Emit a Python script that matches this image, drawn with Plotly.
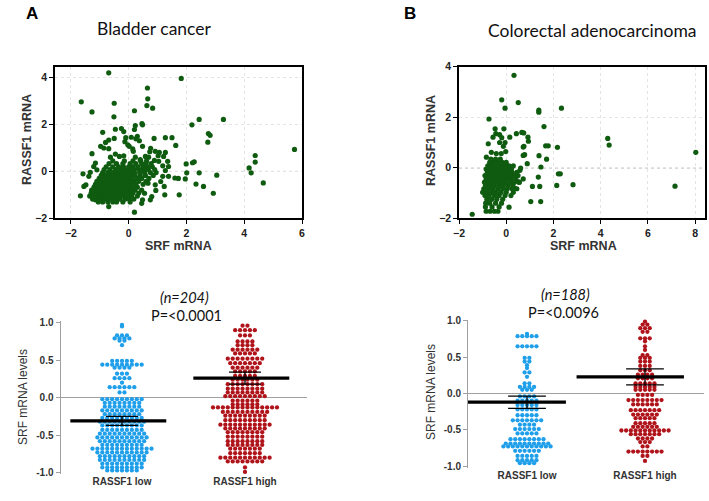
import plotly.graph_objects as go

W, H = 709, 501

# ---------------- Panel A scatter (Bladder cancer) ----------------
a_extra_srf = [-0.69, -1.64, -1.27, -0.50, -0.51, 0.65, 0.66, 0.63, 0.83, 0.20,
               0.46, 0.48, 0.23, 0.20, -0.90, -0.25, -0.17, -0.46, -0.50, -0.69,
               -0.80, -0.97, -0.86, -0.69, -0.10, -0.13, 0.09, 0.30, 0.37, 0.25,
               -0.03, 0.02, 0.14, 0.48, 0.88, 0.76, 0.73, 0.92, 1.06, 1.27,
               1.50, 1.27, 1.21, 1.35, 1.38, -1.27, -0.63, -0.46, -0.17, -0.32,
               0.16, 0.23, 0.40, 0.58, 0.69, 0.89, 1.02, 1.04, 1.18, 1.27,
               1.38, 1.18, 1.11, 1.23, 1.25, 0.75, 0.80, 0.94, 0.92, 0.67,
               0.55, 0.48, 0.45, 0.20, -0.69, -1.15, -1.67, -1.58, -1.55, -1.48,
               -1.38, -1.33, -1.21, -1.15, -1.10, 1.82, 2.44, 3.28, 2.19, 2.76,
               2.82, 2.74, 1.63, 5.74, 4.38, 4.38, 4.17, 4.24, 4.66, 1.99,
               2.21, 2.27, 2.01, 2.44, 3.05, 1.96, 1.72, 1.60, 2.33, 2.59,
               2.93, 1.75]
a_extra_rassf1 = [4.21, 2.97, 2.54, 2.91, 2.33, 3.56, 3.10, 2.81, 2.70, 2.59,
                  2.04, 1.99, 1.96, 1.79, 1.67, 1.83, 1.70, 1.80, 1.41, 1.34,
                  1.24, 1.07, 1.00, 0.97, 1.44, 1.27, 1.46, 1.50, 1.31, 1.39,
                  1.14, 1.07, 0.96, 1.07, 1.41, 0.99, 0.84, 0.86, 0.81, 1.44,
                  1.44, 0.81, 0.64, 0.43, 0.21, 0.76, 0.61, 0.74, 0.67, 0.64,
                  0.86, 0.61, 0.50, 0.64, 0.61, 0.47, 0.67, 0.43, 0.24, 0.04,
                  -0.21, -0.21, -0.43, -0.64, -1.00, -1.21, -1.07, -0.81, -0.57, -0.50,
                  -0.93, -1.21, -1.36, -1.74, -1.50, -1.21, -1.04, -0.10, -0.64, -0.57,
                  -0.21, -0.04, 0.21, 0.36, 0.07, 3.97, 2.22, 2.22, 1.99, 1.62,
                  1.54, 1.25, 1.11, 0.94, 0.68, 0.40, 0.15, -0.06, -0.49, 0.32,
                  0.37, 0.41, -0.06, -0.06, -0.16, -0.32, -0.30, -0.28, -0.54, -0.64,
                  -0.93, -1.00]

# dense core, read row by row (RASSF1 level, SRF values)
a_core_rassf1 = [-1.30, -1.18, -1.05, -0.92, -0.80, -0.67, -0.55, -0.42,
                 -0.30, -0.17, -0.05, 0.08, 0.20, 0.33, 0.45]
a_core_srf = [
    [-1.05, -0.90, -0.72, -0.55, -0.42, -0.20, 0.05],
    [-1.25, -1.10, -0.97, -0.83, -0.70, -0.58, -0.45, -0.30, -0.12, 0.02, 0.18],
    [-1.35, -1.20, -1.08, -0.95, -0.82, -0.68, -0.55, -0.43, -0.30, -0.18, -0.05, 0.10, 0.30],
    [-1.30, -1.15, -1.02, -0.90, -0.77, -0.63, -0.50, -0.38, -0.25, -0.12, 0.00, 0.15, 0.35],
    [-1.28, -1.12, -0.98, -0.85, -0.72, -0.60, -0.47, -0.33, -0.20, -0.07, 0.08, 0.22, 0.45],
    [-1.20, -1.05, -0.92, -0.80, -0.66, -0.53, -0.40, -0.27, -0.13, 0.00, 0.13, 0.30],
    [-1.15, -1.00, -0.87, -0.73, -0.60, -0.46, -0.33, -0.20, -0.06, 0.08, 0.25, 0.50],
    [-1.10, -0.95, -0.80, -0.67, -0.53, -0.40, -0.27, -0.13, 0.02, 0.17, 0.35, 0.60],
    [-1.02, -0.88, -0.74, -0.60, -0.47, -0.33, -0.20, -0.05, 0.10, 0.28, 0.45, 0.70],
    [-0.95, -0.80, -0.65, -0.50, -0.36, -0.22, -0.08, 0.07, 0.22, 0.40, 0.58, 0.85],
    [-0.90, -0.72, -0.55, -0.40, -0.25, -0.10, 0.05, 0.20, 0.38, 0.55, 0.75, 0.95],
    [-0.85, -0.65, -0.45, -0.28, -0.12, 0.03, 0.20, 0.37, 0.52, 0.68, 0.90],
    [-0.78, -0.55, -0.35, -0.18, 0.00, 0.15, 0.32, 0.50, 0.65, 0.82],
    [-0.68, -0.42, -0.20, 0.05, 0.25, 0.45, 0.60, 0.78],
    [-0.55, -0.15, 0.15, 0.42, 0.62],
]

# ---------------- Panel B scatter (Colorectal) ----------------
b_extra_srf = [0.33, -0.19, -0.05, 0.51, 1.38, 1.38, 2.34, -0.73, 1.60, 4.30,
               4.36, 8.03, 7.15, 2.83, -0.47, -0.10, -0.28, -0.44, -0.56, -0.19,
               0.15, 0.43, 0.66, 0.74, 0.92, 0.94, -0.76, -0.28, -0.05, -0.12,
               -0.02, -0.63, -0.42, -0.21, -0.84, 0.75, 0.78, 0.89, 0.61, 1.39,
               1.71, 1.67, 1.78, 2.17, 2.21, 2.29, 2.14, 1.42, 1.36, 1.11,
               1.46, 1.04, 0.12, -1.44, 1.47, 0.72, 0.55, 0.37, 0.42, 0.58,
               0.72, 0.72]
b_extra_rassf1 = [3.66, 2.69, 2.36, 2.58, 2.28, 2.20, 2.36, 1.93, 1.63, 1.16,
                  0.90, 0.61, -0.73, -0.67, 1.54, 1.54, 1.31, 1.35, 1.21, 1.19,
                  1.21, 1.35, 1.40, 1.38, 1.21, 1.05, 0.95, 1.00, 1.00, 0.85,
                  0.64, 0.61, 0.56, 0.56, 0.42, 0.85, 0.52, 0.16, -0.01, 0.48,
                  0.34, 0.87, 0.87, 0.81, -0.24, -0.24, -0.70, -0.74, -0.37, -0.74,
                  -1.34, -1.34, -1.56, -1.84, 0.03, -0.44, -0.57, -0.81, -0.50, -0.10,
                  0.49, 0.82]

b_core_rassf1 = [-1.72, -1.55, -1.40, -1.25, -1.10, -0.97, -0.83, -0.70,
                 -0.57, -0.44, -0.31, -0.18, -0.05, 0.08, 0.21, 0.34]
b_core_srf = [
    [-0.85, -0.68, -0.50, -0.35],
    [-0.88, -0.60, -0.30],
    [-0.87, -0.70, -0.45, -0.20],
    [-0.82, -0.62, -0.40, -0.15],
    [-0.90, -0.72, -0.50, -0.30, -0.05, 0.20],
    [-1.00, -0.82, -0.62, -0.42, -0.22, 0.00, 0.30],
    [-0.95, -0.75, -0.55, -0.35, -0.15, 0.05, 0.25, 0.45],
    [-0.88, -0.70, -0.50, -0.30, -0.12, 0.08, 0.28],
    [-0.92, -0.75, -0.58, -0.40, -0.22, -0.05, 0.15, 0.35, 0.55],
    [-0.85, -0.68, -0.50, -0.33, -0.15, 0.02, 0.20, 0.40],
    [-0.90, -0.72, -0.55, -0.38, -0.20, -0.03, 0.15, 0.32, 0.50],
    [-0.80, -0.62, -0.45, -0.28, -0.10, 0.08, 0.25, 0.45],
    [-0.85, -0.68, -0.50, -0.32, -0.15, 0.03, 0.22],
    [-0.78, -0.60, -0.42, -0.25, -0.07, 0.12, 0.30],
    [-0.70, -0.52, -0.35, -0.17, 0.00],
    [-0.65, -0.45, -0.25],
]

# ---------------- Dot plots (SRF mRNA levels by RASSF1 group) ----------------
groups = ["RASSF1 low", "RASSF1 high"]

a_low_levels = [0.97, 0.95, 0.83, 0.79, 0.76, 0.70, 0.49, 0.44, 0.40, 0.32,
                0.26, 0.20, 0.14, 0.07, -0.02, -0.07, -0.12, -0.17, -0.22, -0.27,
                -0.32, -0.37, -0.43, -0.48, -0.53, -0.58, -0.63, -0.68, -0.73, -0.78,
                -0.83, -0.88, -0.93, -0.97]
a_low_counts = [1, 1, 3, 4, 2, 1, 5, 9, 4, 3,
                4, 1, 6, 2, 9, 8, 8, 9, 8, 9,
                10, 9, 9, 10, 11, 10, 9, 13, 11, 10,
                10, 9, 9, 7]

a_high_levels = [0.96, 0.90, 0.83, 0.75, 0.70, 0.64, 0.59, 0.52, 0.46, 0.40,
                 0.35, 0.29, 0.24, 0.18, 0.12, 0.07, 0.02, -0.04, -0.09, -0.13,
                 -0.19, -0.24, -0.30, -0.36, -0.41, -0.46, -0.52, -0.58, -0.63, -0.68,
                 -0.74, -0.80, -0.85, -0.93, -0.99]
a_high_counts = [2, 5, 3, 4, 4, 6, 5, 8, 7, 6,
                 5, 5, 6, 8, 8, 8, 9, 6, 6, 14,
                 10, 9, 9, 11, 9, 8, 8, 8, 8, 7,
                 7, 11, 8, 1, 1]

b_low_levels = [0.82, 0.79, 0.65, 0.49, 0.44, 0.39, 0.35, 0.29, 0.23, 0.14,
                0.09, 0.05, -0.04, -0.10, -0.16, -0.22, -0.30, -0.37, -0.43, -0.49,
                -0.55, -0.63, -0.69, -0.73, -0.79, -0.86, -0.92, -0.96]
b_low_counts = [1, 5, 5, 2, 2, 1, 1, 2, 1, 2,
                4, 3, 4, 5, 5, 5, 5, 7, 4, 6,
                5, 8, 10, 11, 6, 5, 5, 4]

b_high_levels = [0.99, 0.95, 0.90, 0.85, 0.76, 0.72, 0.65, 0.60, 0.53, 0.49,
                 0.44, 0.38, 0.32, 0.26, 0.21, 0.14, 0.09, 0.05, -0.02, -0.09,
                 -0.15, -0.23, -0.29, -0.34, -0.41, -0.46, -0.51, -0.56, -0.62, -0.67,
                 -0.73, -0.80, -0.86, -0.93]
b_high_counts = [1, 2, 3, 2, 3, 1, 1, 1, 2, 3,
                 3, 3, 3, 4, 4, 5, 5, 5, 4, 8,
                 6, 7, 6, 5, 5, 6, 11, 7, 4, 3,
                 2, 8, 2, 1]

# mean and SEM
a_means = [-0.31, 0.26]
a_sems = [0.06, 0.08]
b_means = [-0.12, 0.23]
b_sems = [0.085, 0.11]

# ---------------- styles ----------------
GREEN = "#0f5c10"
BLUE = "#1f9fea"
RED = "#b0141b"
TICKFONT = dict(family="Liberation Sans, Arial", size=10.5, color="#222", weight="bold")
DOTTICK = dict(family="Liberation Sans, Arial", size=10, color="#333", weight="bold")


def flatten_rows(levels, rows):
    xs, ys = [], []
    for lv, row in zip(levels, rows):
        for v in row:
            xs.append(v)
            ys.append(lv)
    return xs, ys


def swarm(levels, counts, center, spacing):
    xs, ys = [], []
    for lv, n in zip(levels, counts):
        for i in range(n):
            xs.append(center + (i - (n - 1) / 2) * spacing)
            ys.append(lv)
    return xs, ys


fig = go.Figure()

cx, cy = flatten_rows(a_core_rassf1, a_core_srf)
fig.add_trace(go.Scatter(x=a_extra_srf + cx, y=a_extra_rassf1 + cy, mode="markers",
                         marker=dict(color=GREEN, size=5.2, line=dict(width=0)),
                         xaxis="x", yaxis="y", showlegend=False, cliponaxis=False))
cx, cy = flatten_rows(b_core_rassf1, b_core_srf)
fig.add_trace(go.Scatter(x=b_extra_srf + cx, y=b_extra_rassf1 + cy, mode="markers",
                         marker=dict(color=GREEN, size=5.2, line=dict(width=0)),
                         xaxis="x2", yaxis="y2", showlegend=False, cliponaxis=False))


def dot_panel(xa, ya, data, means, sems, spacing, mean_span, cap):
    for gi, (levels, counts, col) in enumerate(data):
        xs, ys = swarm(levels, counts, gi, spacing)
        fig.add_trace(go.Scatter(x=xs, y=ys, mode="markers",
                                 marker=dict(color=col, size=4.3, line=dict(width=0)),
                                 xaxis=xa, yaxis=ya, showlegend=False, cliponaxis=False))
    for gi, (m, s) in enumerate(zip(means, sems)):
        fig.add_trace(go.Scatter(
            x=[gi, gi, None, gi - cap, gi + cap, None, gi - cap, gi + cap],
            y=[m - s, m + s, None, m + s, m + s, None, m - s, m - s],
            mode="lines", line=dict(color="black", width=1.3),
            xaxis=xa, yaxis=ya, showlegend=False))
        fig.add_trace(go.Scatter(
            x=[max(gi + mean_span[0], -0.5), gi + mean_span[1]], y=[m, m],
            mode="lines", line=dict(color="black", width=3.2),
            xaxis=xa, yaxis=ya, showlegend=False))


dot_panel("x3", "y3", [(a_low_levels, a_low_counts, BLUE), (a_high_levels, a_high_counts, RED)],
          a_means, a_sems, 0.04, (-0.42, 0.36), 0.13)
dot_panel("x4", "y4", [(b_low_levels, b_low_counts, BLUE), (b_high_levels, b_high_counts, RED)],
          b_means, b_sems, 0.04, (-0.58, 0.33), 0.16)


def px(x):
    return x / W


def py(y):
    return 1 - y / H


scatter_x = dict(showline=True, linecolor="black", linewidth=1.5, mirror=True,
                 ticks="outside", ticklen=4, tickwidth=1.3, tickcolor="black",
                 showgrid=True, gridcolor="#e4e4e4", griddash="dot", gridwidth=1,
                 zeroline=False, tickfont=TICKFONT, automargin=False)

dot_y = dict(range=[-1.02, 1.02], tickvals=[-1, -0.5, 0, 0.5, 1],
             ticktext=["-1.0", "-0.5", "0.0", "0.5", "1.0"],
             showline=True, linecolor="#a0a0a0", linewidth=1, ticks="outside", ticklen=4,
             tickcolor="#a0a0a0", showgrid=False, zeroline=True, zerolinecolor="#a0a0a0",
             zerolinewidth=1, tickfont=DOTTICK, automargin=False)
dot_x = dict(range=[-0.5, 1.5], tickvals=[0, 1], ticktext=groups, showline=False, ticks="",
             showgrid=False, zeroline=False, tickfont=DOTTICK, automargin=False)

fig.update_layout(
    width=W, height=H, margin=dict(l=0, r=0, t=0, b=0, autoexpand=False),
    paper_bgcolor="white", plot_bgcolor="white",
    xaxis=dict(domain=[px(55), px(302)], range=[-2.55, 6.0], tickvals=[-2, 0, 2, 4, 6],
               anchor="y", **scatter_x),
    yaxis=dict(domain=[py(218.3), py(66.7)], range=[-2, 4.47], tickvals=[-2, 0, 2, 4],
               anchor="x", **scatter_x),
    xaxis2=dict(domain=[px(459), px(705)], range=[-2, 8.42], tickvals=[-2, 0, 2, 4, 6, 8],
                anchor="y2", **scatter_x),
    yaxis2=dict(domain=[py(218.3), py(66.7)], range=[-2, 4], tickvals=[-2, 0, 2, 4],
                anchor="x2", **scatter_x),
    xaxis3=dict(domain=[px(60.5), px(306.5)], anchor="y3", **dot_x),
    yaxis3=dict(domain=[py(474.2), py(321.2)], anchor="x3", **dot_y),
    xaxis4=dict(domain=[px(468), px(704)], anchor="y4", **dot_x),
    yaxis4=dict(domain=[py(467.5), py(319.5)], anchor="x4", **dot_y),
)

for xr, yr in [("x domain", "y"), ("x2 domain", "y2")]:
    fig.add_shape(type="line", xref=xr, yref=yr, x0=0, x1=1, y0=0, y1=0,
                  line=dict(color="#6e6e6e", width=1, dash="dot"), layer="below")


def ann(text, x, y, size, family="Liberation Sans, Arial", angle=0, color="#111"):
    fig.add_annotation(text=text, x=px(x), y=py(y), xref="paper", yref="paper",
                       showarrow=False, xanchor="center", yanchor="middle", textangle=angle,
                       font=dict(family=family, size=size, color=color))


ann("<b>A</b>", 32, 13, 17, color="black")
ann("<b>B</b>", 410, 13, 17, color="black")
ann("Bladder cancer", 154, 28, 17.5, family="Lato, Noto Sans")
ann("Colorectal adenocarcinoma", 592, 31, 17.5, family="Lato, Noto Sans")
ann("<b>RASSF1 mRNA</b>", 27, 140, 12.5, angle=-90, color="#333")
ann("<b>SRF mRNA</b>", 178, 246, 12.5, color="#333")
ann("<b>RASSF1 mRNA</b>", 431, 141, 12.5, angle=-90, color="#333")
ann("<b>SRF mRNA</b>", 583, 246, 12.5, color="#333")
ann("<i>(n=204)</i>", 184, 297, 14.5, family="Lato, Noto Sans")
ann("P=<0.0001", 186, 315, 14.5, family="Lato, Noto Sans")
ann("<i>(n=188)</i>", 565, 294, 14.5, family="Lato, Noto Sans")
ann("P=<0.0096", 563, 312, 14.5, family="Lato, Noto Sans")
ann("SRF mRNA levels", 23, 397, 12, angle=-90, color="#333")
ann("SRF mRNA levels", 431, 392, 12, angle=-90, color="#333")

fig.write_html("out.html", config={"displayModeBar": False},
               post_script="document.body.style.margin='0';document.body.style.overflow='hidden';")
